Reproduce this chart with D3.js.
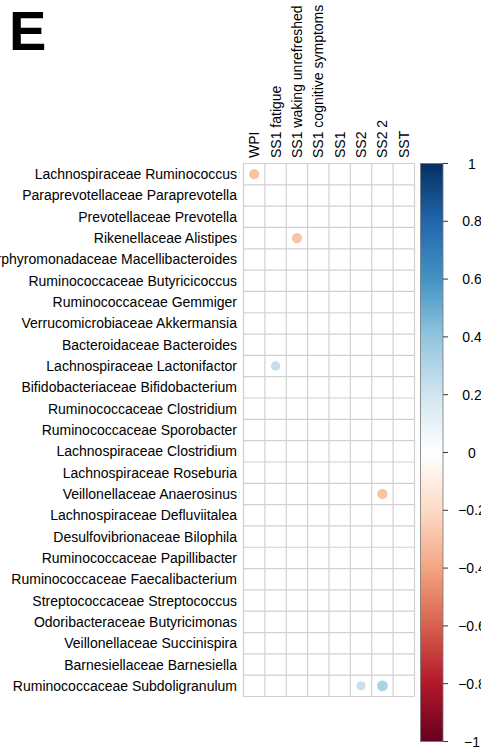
<!DOCTYPE html>
<html><head><meta charset="utf-8">
<script src="https://cdn.jsdelivr.net/npm/d3@7"></script>
<style>body{margin:0;background:#fff;}svg{display:block;font-family:"Liberation Sans",Arial,sans-serif;}</style>
</head><body>
<svg id="chart" width="481" height="748"></svg>
<script>
const taxa = [
  "Lachnospiraceae Ruminococcus",
  "Paraprevotellaceae Paraprevotella",
  "Prevotellaceae Prevotella",
  "Rikenellaceae Alistipes",
  "Porphyromonadaceae Macellibacteroides",
  "Ruminococcaceae Butyricicoccus",
  "Ruminococcaceae Gemmiger",
  "Verrucomicrobiaceae Akkermansia",
  "Bacteroidaceae Bacteroides",
  "Lachnospiraceae Lactonifactor",
  "Bifidobacteriaceae Bifidobacterium",
  "Ruminococcaceae Clostridium",
  "Ruminococcaceae Sporobacter",
  "Lachnospiraceae Clostridium",
  "Lachnospiraceae Roseburia",
  "Veillonellaceae Anaerosinus",
  "Lachnospiraceae Defluviitalea",
  "Desulfovibrionaceae Bilophila",
  "Ruminococcaceae Papillibacter",
  "Ruminococcaceae Faecalibacterium",
  "Streptococcaceae Streptococcus",
  "Odoribacteraceae Butyricimonas",
  "Veillonellaceae Succinispira",
  "Barnesiellaceae Barnesiella",
  "Ruminococcaceae Subdoligranulum"
];
const variables = ["WPI","SS1 fatigue","SS1 waking unrefreshed","SS1 cognitive symptoms","SS1","SS2","SS2 2","SST"];
// significant correlations only (others blank)
const dotTaxa = ["Lachnospiraceae Ruminococcus","Rikenellaceae Alistipes","Lachnospiraceae Lactonifactor","Veillonellaceae Anaerosinus","Ruminococcaceae Subdoligranulum","Ruminococcaceae Subdoligranulum"];
const dotVars = ["WPI","SS1 waking unrefreshed","SS1 fatigue","SS2 2","SS2","SS2 2"];
const dotValues = [-0.29,-0.29,0.24,-0.29,0.23,0.32];
const legendTicks = [-1,-0.8,-0.6,-0.4,-0.2,0,0.2,0.4,0.6,0.8,1];
const paletteStops = ["#67001F","#B2182B","#D6604D","#F4A582","#FDDBC7","#FFFFFF","#D1E5F0","#92C5DE","#4393C3","#2166AC","#053061"];

const svg = d3.select("#chart");
const color = d3.scaleLinear().domain(d3.range(11).map(i => -1 + i*0.2)).range(paletteStops).interpolate(d3.interpolateRgb);

const x = d3.scaleBand().domain(variables).range([243.5, 414.5]);
const y = d3.scaleBand().domain(taxa).range([163.5, 696.5]);

// title
svg.append("text").attr("x", 9).attr("y", 50).attr("font-size", 56).attr("font-weight", "bold").text("E");

// grid
const g = svg.append("g");
g.selectAll("line.v").data(d3.range(variables.length + 1)).join("line")
  .attr("x1", i => x.range()[0] + i*x.bandwidth()).attr("x2", i => x.range()[0] + i*x.bandwidth())
  .attr("y1", y.range()[0]).attr("y2", y.range()[1])
  .attr("stroke", "#d0d0d0").attr("stroke-width", 1.2);
g.selectAll("line.h").data(d3.range(taxa.length + 1)).join("line")
  .attr("y1", i => y.range()[0] + i*y.bandwidth()).attr("y2", i => y.range()[0] + i*y.bandwidth())
  .attr("x1", x.range()[0]).attr("x2", x.range()[1])
  .attr("stroke", "#d0d0d0").attr("stroke-width", 1.2);

// dots
const dots = dotValues.map((v, i) => ({t: dotTaxa[i], c: dotVars[i], v}));
g.selectAll("circle").data(dots).join("circle")
  .attr("cx", d => x(d.c) + x.bandwidth()/2)
  .attr("cy", d => y(d.t) + y.bandwidth()/2)
  .attr("r", d => 0.45 * Math.sqrt(Math.abs(d.v)) * x.bandwidth())
  .attr("fill", d => color(d.v));

// row labels
svg.append("g").selectAll("text").data(taxa).join("text")
  .attr("x", 237).attr("y", d => y(d) + y.bandwidth()/2)
  .attr("text-anchor", "end").attr("dominant-baseline", "central")
  .attr("font-size", 14).attr("fill", "#000").text(d => d);

// column labels
svg.append("g").selectAll("text").data(variables).join("text")
  .attr("transform", d => `translate(${x(d) + x.bandwidth()/2},158) rotate(-90)`)
  .attr("text-anchor", "start").attr("dominant-baseline", "central")
  .attr("font-size", 14).attr("fill", "#000").text(d => d);

// color legend
const ly = d3.scaleLinear().domain([-1, 1]).range([741.5, 163.5]);
const defs = svg.append("defs");
const grad = defs.append("linearGradient").attr("id", "cg").attr("x1", 0).attr("y1", 1).attr("x2", 0).attr("y2", 0);
grad.selectAll("stop").data(paletteStops).join("stop")
  .attr("offset", (d, i) => i/(paletteStops.length - 1)).attr("stop-color", d => d);
svg.append("rect").attr("x", 420.5).attr("y", ly(1)).attr("width", 22.5).attr("height", ly(-1) - ly(1))
  .attr("fill", "url(#cg)").attr("stroke", "#777").attr("stroke-width", 0.8);
const lg = svg.append("g");
lg.selectAll("line").data(legendTicks).join("line")
  .attr("x1", 443).attr("x2", 448).attr("y1", d => ly(d)).attr("y2", d => ly(d))
  .attr("stroke", "#333").attr("stroke-width", 1);
lg.selectAll("text").data(legendTicks).join("text")
  .attr("x", 472).attr("y", d => ly(d)).attr("text-anchor", "middle").attr("dominant-baseline", "central")
  .attr("font-size", 14).attr("fill", "#000").text(d => d3.format("")(d));
</script>
</body></html>
